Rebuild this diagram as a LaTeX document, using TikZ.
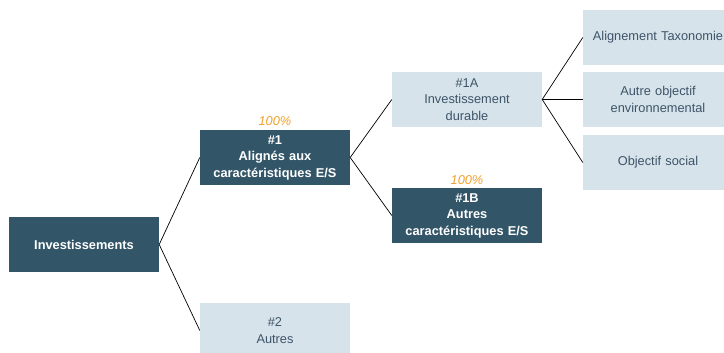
\documentclass[tikz,border=0pt]{standalone}
\usepackage{fontspec}
\setmainfont{Liberation Sans}
\definecolor{darkbox}{RGB}{50,85,104}
\definecolor{lightbox}{RGB}{214,227,235}
\definecolor{lighttext}{RGB}{62,84,104}
\definecolor{pct}{RGB}{240,160,40}

\begin{document}
\begin{tikzpicture}[x=1pt,y=-1pt,
  dark/.style={fill=darkbox,text=white,font=\fontsize{12.8}{16.5}\selectfont\bfseries,minimum width=150pt,minimum height=55pt,text width=148pt,align=center,inner sep=0pt},
  light/.style={fill=lightbox,text=lighttext,font=\fontsize{12.8}{16.5}\selectfont,minimum width=150pt,minimum height=55pt,text width=148pt,align=center,inner sep=0pt},
  share/.style={text=pct,font=\fontsize{12.8}{15}\selectfont\itshape,inner sep=0pt},
  link/.style={draw=black,line width=0.7pt}]

\clip (0,0) rectangle (724,353);

% Define boxes
\node[dark] (inv) at (84,244.5) {Investissements};
\node[dark] (n1) at (275,157.5) {\#1\\Alignés aux\\caractéristiques E/S};
\node[light] (n2) at (275,330.5) {\#2\\Autres};
\node[light] (n1a) at (467,99.5) {\#1A\\Investissement\\durable};
\node[dark] (n1b) at (467,215.5) {\#1B\\Autres\\caractéristiques E/S};
\node[light] (tax) at (658,37.5) {Alignement Taxonomie};
\node[light] (env) at (658,99.5) {Autre objectif\\environnemental};
\node[light] (soc) at (658,162.5) {Objectif social};

% Add percentages
\node[share] (p1) at (275,121) {100\%};
\node[share] (p1b) at (467,180) {100\%};

% Draw connectors
\draw[link] (inv.east) -- (n1.west);
\draw[link] (inv.east) -- (n2.west);
\draw[link] (n1.east) -- (n1a.west);
\draw[link] (n1.east) -- (n1b.west);
\foreach \t in {tax,env,soc} {
  \draw[link] (n1a.east) -- (\t.west);
}

\end{tikzpicture}
\end{document}
